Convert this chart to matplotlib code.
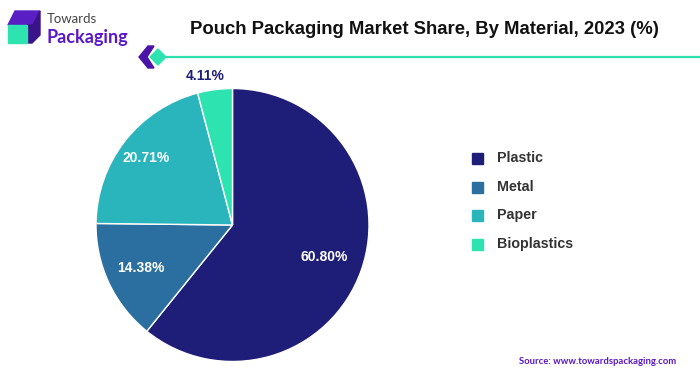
import matplotlib
matplotlib.use("Agg")
import matplotlib.pyplot as plt
from matplotlib.patches import Polygon, Rectangle
import numpy as np

# data
materials = ["Plastic", "Metal", "Paper", "Bioplastics"]
shares = [60.80, 14.38, 20.71, 4.11]
colors = ["#1e1e78", "#2a6f9f", "#2ab5bd", "#2de3b0"]
label_dist = [0.71, 0.74, 0.80, 1.10]
label_colors = ["white", "white", "white", "#1e1e78"]

title = "Pouch Packaging Market Share, By Material, 2023 (%)"
source = "Source: www.towardspackaging.com"

W, H = 700, 376
fig = plt.figure(figsize=(W / 100, H / 100), dpi=100)
fig.patch.set_facecolor("white")

def fx(x):
    return x / W

def fy(y):
    return 1 - y / H

# pie axes, centre (232.5, 225) radius 136.5 px
cx, cy, r = 232.5, 225, 136.5
ax = fig.add_axes([fx(cx - r), fy(cy + r), 2 * r / W, 2 * r / H])
wedges, _ = ax.pie(shares, colors=colors, startangle=90, counterclock=False,
                   radius=1, wedgeprops=dict(edgecolor="white", linewidth=1))
ax.set_xlim(-1, 1)
ax.set_ylim(-1, 1)
ax.set_aspect("auto")
ax.axis("off")

for i, (w, val, d, c) in enumerate(zip(wedges, shares, label_dist, label_colors)):
    ang = np.deg2rad((w.theta1 + w.theta2) / 2)
    x, y = d * np.cos(ang), d * np.sin(ang)
    if i == 3:
        x -= 0.06  # outside label sits a bit left of the slice
    ax.text(x, y, f"{val:.2f}%", ha="center", va="center",
            color=c, fontsize=10, fontweight="bold", family="Liberation Sans")

# legend
leg_y = [158, 187, 215, 244]
for name, c, y in zip(materials, colors, leg_y):
    fig.patches.append(Rectangle((fx(472), fy(y + 6)), 11 / W, 11 / H, color=c,
                                 transform=fig.transFigure))
    fig.text(fx(497), fy(y), name, ha="left", va="center", fontsize=10.3,
             fontweight="bold", color="#333333", family="Liberation Sans")

# title and rule
fig.text(fx(424), fy(30), title, ha="center", va="center", fontsize=13.3,
         fontweight="bold", color="#111111", family="Liberation Sans")
fig.add_artist(plt.Line2D([fx(162), fx(700)], [fy(56.5), fy(56.5)], color="#2de0b0",
                          lw=1.6, transform=fig.transFigure))

# chevron icon
chev = [(148, 46), (154, 46), (147, 57), (154, 68), (148, 68), (139, 57)]
fig.patches.append(Polygon([(fx(x), fy(y)) for x, y in chev], closed=True,
                           color="#4a14a8", transform=fig.transFigure))
dia = [(158, 49), (166, 57), (158, 65), (150, 57)]
fig.patches.append(Polygon([(fx(x), fy(y)) for x, y in dia], closed=True,
                           color="#2de3b0", transform=fig.transFigure))

# logo
top = [(8, 25), (15, 11), (40, 11), (33, 25)]
side = [(27, 43), (27, 25), (33, 25), (40, 11), (40, 35), (32, 43)]
fig.patches.append(Polygon([(fx(x), fy(y)) for x, y in top], closed=True,
                           color="#5a1fc4", transform=fig.transFigure))
fig.patches.append(Polygon([(fx(x), fy(y)) for x, y in side], closed=True,
                           color="#3a1289", transform=fig.transFigure))
fig.patches.append(Rectangle((fx(8), fy(43)), 19 / W, 18 / H, color="#2de3b0",
                             transform=fig.transFigure))
fig.text(fx(47), fy(19), "Towards", ha="left", va="center", fontsize=9.5,
         color="#444444", family="Lato")
fig.text(fx(46), fy(37), "Packaging", ha="left", va="center", fontsize=13,
         fontweight="bold", color="#5a17c9", family="Lato")

# source
fig.text(fx(676), fy(362), source, ha="right", va="center", fontsize=6.8,
         fontweight="bold", color="#5a17c9", family="Lato")

fig.savefig("out.png", dpi=100, facecolor="white")
